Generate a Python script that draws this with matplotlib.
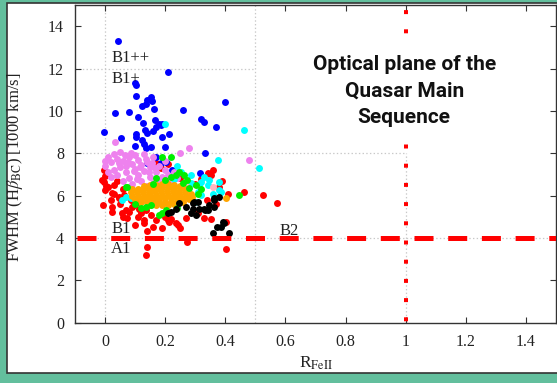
import matplotlib
matplotlib.use("Agg")
import matplotlib.pyplot as plt
from matplotlib.patches import Rectangle

# ---------------- data ----------------
blue_x = [0.044, 0.208, 0.400, 0.100, 0.102, 0.104, 0.033, 0.080, -0.002, 0.054,
          0.111, 0.122, 0.136, 0.141, 0.152, 0.155, 0.163, 0.127, 0.133, 0.141,
          0.158, 0.169, 0.180, 0.189, 0.102, 0.102, 0.100, 0.124, 0.130, 0.136,
          0.152, 0.189, 0.200, 0.213, 0.260, 0.318, 0.329, 0.369, 0.334, 0.317,
          0.202, 0.141, 0.169, 0.186, 0.224, 0.167, 0.186]
blue_y = [13.32, 11.84, 10.41, 11.30, 11.20, 10.70, 9.90, 9.97, 9.00, 8.73,
          9.69, 10.25, 10.32, 10.50, 10.66, 10.47, 10.08, 9.43, 9.12, 8.96,
          9.06, 9.25, 9.36, 9.40, 8.93, 8.75, 8.33, 8.62, 8.43, 8.23,
          8.30, 8.75, 8.30, 8.93, 10.02, 9.62, 9.47, 9.25, 7.99, 7.08,
          7.61, 7.52, 7.83, 7.52, 7.20, 9.56, 9.33]

red_x = [-0.003, 0.000, -0.007, 0.024, 0.058, 0.074, 0.130, 0.158, 0.191, 0.236,
         0.141, 0.136, 0.274, 0.402, 0.402, 0.463, 0.524, 0.571, 0.380, 0.330,
         0.352, 0.000, 0.341, -0.003, -0.009, 0.002, 0.024, 0.019, 0.047, 0.024,
         0.080, 0.108, 0.130, 0.208, 0.269, 0.308, 0.352, 0.358, 0.169, 0.241,
         0.030, 0.047, 0.063, 0.086, 0.097, 0.113, 0.136, 0.152, 0.169, 0.213,
         0.091, 0.040, 0.060, 0.030, 0.050, 0.110, 0.120, 0.060, 0.140, 0.100,
         0.250, 0.185, 0.210, 0.250, 0.300, 0.320, 0.340, 0.370, 0.410, 0.390,
         0.220, 0.200, 0.010, 0.070]
red_y = [6.65, 6.26, 5.55, 5.24, 5.16, 4.92, 4.69, 4.53, 4.45, 4.69,
         3.58, 3.19, 3.82, 4.74, 3.48, 6.18, 6.02, 5.66, 6.41, 4.92,
         4.88, 6.93, 7.05, 7.20, 6.73, 6.45, 6.13, 5.79, 5.94, 5.47,
         5.24, 5.00, 4.84, 4.84, 4.92, 5.20, 6.97, 7.20, 7.52, 4.61,
         6.10, 5.87, 6.02, 5.79, 5.55, 5.39, 5.32, 5.08, 4.84, 4.76,
         5.47, 6.70, 6.30, 6.50, 5.60, 5.70, 5.20, 5.00, 4.35, 4.60,
         4.45, 7.30, 7.50, 6.85, 6.55, 6.80, 5.80, 5.60, 6.10, 6.70,
         4.90, 5.00, 6.40, 5.30]

violet_x = [0.033, 0.030, 0.050, 0.065, 0.040, 0.020, 0.060, 0.080, 0.100, 0.110,
            0.090, 0.070, 0.050, 0.030, 0.010, 0.000, 0.040, 0.070, 0.100, 0.120,
            0.140, 0.150, 0.130, 0.110, 0.080, 0.060, 0.090, 0.120, 0.150, 0.170,
            0.180, 0.200, 0.190, 0.210, 0.230, 0.160, 0.140, 0.180, 0.220, 0.250,
            0.278, 0.480, 0.200, 0.130, 0.020, 0.085, 0.160, 0.240,
            0.010, 0.045, 0.075, 0.095, 0.115, 0.135, 0.155, 0.165, 0.175, 0.205,
            0.225, 0.000, 0.105, 0.145]
violet_y = [8.54, 7.95, 8.05, 7.90, 7.75, 7.60, 7.65, 7.80, 7.90, 7.70,
            7.50, 7.40, 7.35, 7.20, 7.10, 7.40, 6.95, 7.10, 7.25, 7.45,
            7.60, 7.35, 7.15, 6.95, 6.85, 6.70, 6.55, 6.70, 6.90, 7.10,
            7.40, 7.20, 6.90, 6.95, 7.10, 6.60, 6.45, 6.55, 6.70, 7.99,
            8.23, 7.67, 7.65, 7.95, 6.90, 8.00, 7.80, 6.85,
            7.80, 7.55, 7.60, 7.15, 7.35, 7.75, 7.55, 7.30, 6.75, 6.80,
            6.90, 7.65, 6.80, 7.10]

cyan_x = [0.199, 0.461, 0.513, 0.376, 0.347, 0.380, 0.341, 0.380, 0.386, 0.313,
          0.252, 0.286, 0.319, 0.300, 0.058, 0.069, 0.086, 0.270, 0.230, 0.330,
          0.360, 0.240, 0.308, 0.286, 0.319]
cyan_y = [9.40, 9.09, 7.31, 7.67, 6.73, 6.26, 6.50, 6.65, 6.18, 6.50,
          7.12, 6.97, 6.02, 5.70, 5.79, 5.94, 5.87, 6.60, 6.80, 6.90,
          6.10, 7.40, 6.18, 6.58, 6.65]

green_x = [0.191, 0.218, 0.247, 0.263, 0.274, 0.302, 0.074, 0.447, 0.069, 0.191,
           0.202, 0.180, 0.152, 0.136, 0.220, 0.200, 0.170, 0.160, 0.280, 0.310,
           0.320, 0.100, 0.120, 0.240, 0.260, 0.235]
green_y = [7.83, 7.83, 7.12, 6.97, 6.73, 6.50, 6.39, 6.02, 6.41, 5.16,
           5.32, 5.08, 5.55, 5.47, 6.90, 6.75, 6.85, 6.55, 6.35, 6.10,
           6.30, 5.60, 5.40, 5.40, 6.60, 6.95]

orange_x = [0.130, 0.150, 0.170, 0.190, 0.210, 0.230, 0.250,
            0.090, 0.110, 0.130, 0.150, 0.170, 0.190, 0.210, 0.230, 0.250, 0.270,
            0.085, 0.105, 0.125, 0.145, 0.165, 0.185, 0.205, 0.225, 0.245, 0.265, 0.285,
            0.090, 0.110, 0.130, 0.150, 0.170, 0.190, 0.210, 0.230, 0.250, 0.270, 0.290,
            0.100, 0.120, 0.140, 0.160, 0.180, 0.200, 0.220, 0.240, 0.260, 0.280,
            0.120, 0.140, 0.160, 0.180, 0.200, 0.220, 0.240, 0.260,
            0.150, 0.170, 0.190, 0.210, 0.230, 0.402]
orange_y = [6.45, 6.48, 6.52, 6.55, 6.55, 6.52, 6.45,
            6.30, 6.32, 6.34, 6.36, 6.38, 6.40, 6.40, 6.38, 6.35, 6.30,
            6.15, 6.15, 6.17, 6.18, 6.20, 6.22, 6.22, 6.20, 6.18, 6.15, 6.10,
            6.00, 6.00, 6.00, 6.02, 6.02, 6.04, 6.04, 6.02, 6.00, 5.98, 5.95,
            5.85, 5.85, 5.85, 5.86, 5.86, 5.87, 5.87, 5.86, 5.84, 5.82,
            5.70, 5.70, 5.70, 5.71, 5.71, 5.72, 5.72, 5.72,
            5.58, 5.57, 5.57, 5.58, 5.60, 5.90]

black_x = [0.219, 0.236, 0.247, 0.269, 0.291, 0.308, 0.330, 0.363, 0.380, 0.363,
           0.391, 0.386, 0.358, 0.413, 0.302, 0.208, 0.332, 0.361, 0.347, 0.394,
           0.372, 0.297, 0.291, 0.286, 0.311, 0.344]
black_y = [5.24, 5.39, 5.63, 5.47, 5.63, 5.71, 5.39, 5.87, 5.94, 5.47,
           4.76, 4.53, 4.22, 4.22, 5.08, 5.16, 5.32, 5.79, 5.55, 4.69,
           4.53, 5.71, 5.39, 5.16, 5.35, 5.32]

pink_x = [0.358, 0.270]
pink_y = [6.41, 6.45]

x_ticks = [0, 0.2, 0.4, 0.6, 0.8, 1.0, 1.2, 1.4]
x_tick_labels = ["0", "0.2", "0.4", "0.6", "0.8", "1", "1.2", "1.4"]
y_ticks = [0, 2, 4, 6, 8, 10, 12, 14]

region_labels = ["B1++", "B1+", "B1", "A1", "B2"]
region_x = [0.02, 0.02, 0.02, 0.02, 0.58]
region_y = [12.5, 11.5, 4.42, 3.48, 4.33]

boundary_fwhm = 4.0
boundary_rfe = 1.0

# ---------------- style ----------------
plt.rcParams['font.family'] = ['Liberation Serif', 'DejaVu Serif']
plt.rcParams['mathtext.fontset'] = 'stix'
plt.rcParams['lines.scale_dashes'] = False

W, H = 557, 383
fig = plt.figure(figsize=(W / 100, H / 100), dpi=100, facecolor='#63bf9d')
fig.patches.append(Rectangle((7 / W, 1 - 373 / H), 1.0, (373 - 3) / H,
                             transform=fig.transFigure, facecolor='white',
                             edgecolor='#333333', linewidth=1.2, zorder=-10))

ax = fig.add_axes([75 / W, 1 - 322.7 / H, 481 / W, 317.7 / H])
ax.set_zorder(1)
ax.set_facecolor('white')
ax.set_xlim(-0.1, 1.5)
ax.set_ylim(0, 15)

# grid (partial, as in the picture)
gkw = dict(color='#c8c8c8', linestyle=':', linewidth=0.9, zorder=0.5)
ax.plot([0, 0], [0, 15], **gkw)
ax.plot([0.5, 0.5], [0, 15], **gkw)
ax.plot([1.0, 1.0], [0, 8], **gkw)
ax.plot([-0.1, 0.5], [12, 12], **gkw)
ax.plot([-0.1, 1.0], [8, 8], **gkw)
ax.plot([-0.1, 1.5], [4, 4], **gkw)

skw = dict(s=25, linewidths=0)
ax.scatter(red_x, red_y, color='#ff0000', zorder=2, **skw)
ax.scatter(blue_x, blue_y, color='#0000ff', zorder=2.1, **skw)
ax.scatter(violet_x, violet_y, color='#ee82ee', zorder=2.2, **skw)
ax.scatter(cyan_x, cyan_y, color='#00ffff', zorder=2.3, **skw)
ax.scatter(pink_x, pink_y, color='#ffb6c1', zorder=2.3, **skw)
ax.scatter(orange_x, orange_y, color='#ffa500', zorder=2.4, **skw)
ax.scatter(green_x, green_y, color='#00ee00', zorder=2.5, **skw)
ax.scatter(black_x, black_y, color='#000000', zorder=2.6, **skw)

# boundaries
px = 0.72  # points per pixel
ax.plot([-0.1, 1.5], [boundary_fwhm, boundary_fwhm], color='#ff0000',
        linewidth=5 * px, solid_capstyle='butt', dash_capstyle='butt',
        linestyle=(31.7 * px, (19 * px, 14.7 * px)), zorder=3)
ax.plot([boundary_rfe, boundary_rfe], [0, 15], color='#ff0000',
        linewidth=4 * px, dash_capstyle='butt',
        linestyle=(17.5 * px, (4 * px, 15.2 * px)), zorder=3)

for lab, lx, ly in zip(region_labels, region_x, region_y):
    ax.text(lx, ly, lab, fontsize=12, color='#222222', ha='left', va='center', zorder=4)

ax.text(0.995, 10.95, "Optical plane of the\nQuasar Main\nSequence",
        family=['Roboto', 'DejaVu Sans'], fontweight='bold', fontsize=15,
        ha='center', va='center', linespacing=1.5, color='#111111', zorder=5,
        bbox=dict(facecolor='white', edgecolor='none', pad=5))

ax.set_xticks(x_ticks)
ax.set_xticklabels(x_tick_labels)
ax.set_yticks(y_ticks)
ax.tick_params(direction='in', top=True, right=True, length=4, width=0.8,
               labelsize=11.5, pad=8, colors='#333333', labelcolor='#222222')
for sp in ax.spines.values():
    sp.set_color('#333333')
    sp.set_linewidth(1.0)

ax.set_xlabel(r'R$_{\rm FeII}$', fontsize=12.5, color='#222222')
ax.xaxis.set_label_coords(0.5, -0.10)
ax.set_ylabel(r'FWHM (H$\beta_{\rm BC}$) [1000 km/s]', fontsize=12, color='#222222')
ax.yaxis.set_label_coords(-0.104, 0.489)

fig.savefig('out.png', dpi=100, facecolor=fig.get_facecolor())
